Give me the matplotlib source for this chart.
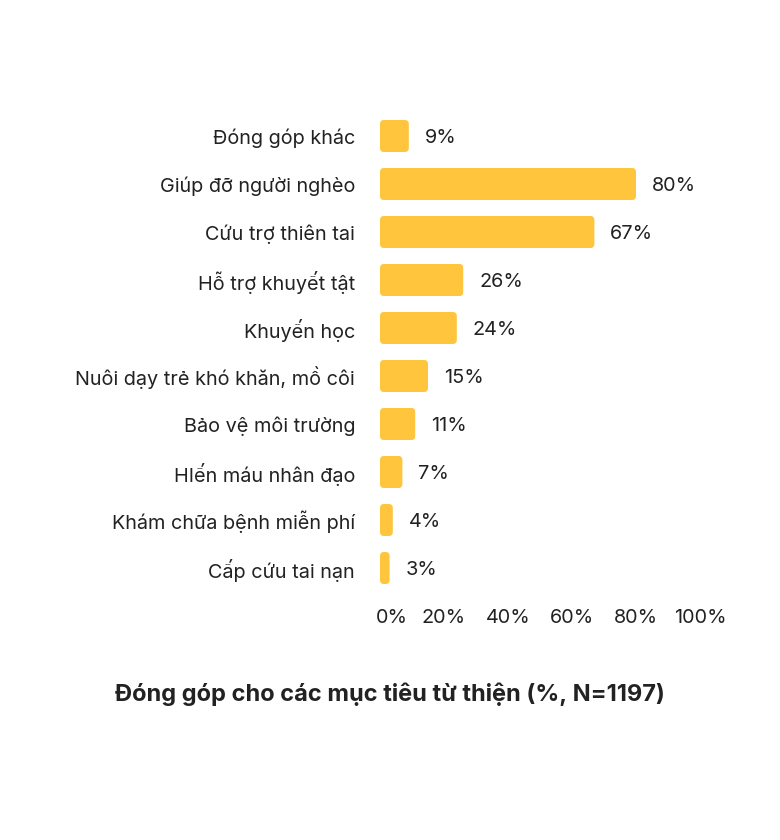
import matplotlib
matplotlib.use("Agg")
import matplotlib.pyplot as plt
from matplotlib.patches import FancyBboxPatch
from matplotlib.transforms import ScaledTranslation

plt.rcParams['font.family'] = ['Inter', 'DejaVu Sans']

categories = ["Đóng góp khác", "Giúp đỡ người nghèo", "Cứu trợ thiên tai",
              "Hỗ trợ khuyết tật", "Khuyến học", "Nuôi dạy trẻ khó khăn, mồ côi",
              "Bảo vệ môi trường", "HIến máu nhân đạo", "Khám chữa bệnh miễn phí",
              "Cấp cứu tai nạn"]
values = [9, 80, 67, 26, 24, 15, 11, 7, 4, 3]
xticks = [0, 20, 40, 60, 80, 100]
title = "Đóng góp cho các mục tiêu từ thiện (%, N=1197)"

bar_col = "#FEC53D"
txt_col = "#222222"
fs = 14.3

fig = plt.figure(figsize=(7.8, 8.4), dpi=100)
ax = fig.add_axes([380/780, 1-592/840, 320/780, 480/840])

ypos = list(range(len(categories)))
bars = ax.barh(ypos, values, height=0.667, color=bar_col)
# swap plain bars for rounded ones (4px corners)
asp = (320/100) / 48
for b in bars:
    x, y = b.get_x(), b.get_y()
    w, h = b.get_width(), b.get_height()
    b.remove()
    ax.add_patch(FancyBboxPatch((x, y), w, h,
                                boxstyle="round,pad=0,rounding_size=1.25",
                                mutation_aspect=asp, fc=bar_col, ec="none"))

for yy, v in zip(ypos, values):
    ax.annotate(f"{v}%", (v, yy), xytext=(11.5, 0), textcoords="offset points",
                ha="left", va="center_baseline", fontsize=fs, color=txt_col)

ax.set_xlim(0, 100)
ax.set_ylim(len(categories) - 0.5, -0.5)
ax.set_yticks(ypos)
ax.set_yticklabels(categories, fontsize=fs, color=txt_col)
ax.set_xticks(xticks)
ax.set_xticklabels([f"{t}%" for t in xticks], fontsize=fs, color=txt_col)
ax.tick_params(axis="y", length=0, pad=18)
ax.tick_params(axis="x", length=0, pad=12)
for s in ax.spines.values():
    s.set_visible(False)
# keep the 0% label from hanging past the left edge
first = ax.get_xticklabels()[0]
first.set_ha("left")
first.set_transform(first.get_transform() + ScaledTranslation(-4/100, 0, fig.dpi_scale_trans))

fig.text(0.5, 1-694/840, title, ha="center", va="center",
         fontsize=17, fontweight="bold", color=txt_col)

fig.savefig("out.png", dpi=100, facecolor="white")
